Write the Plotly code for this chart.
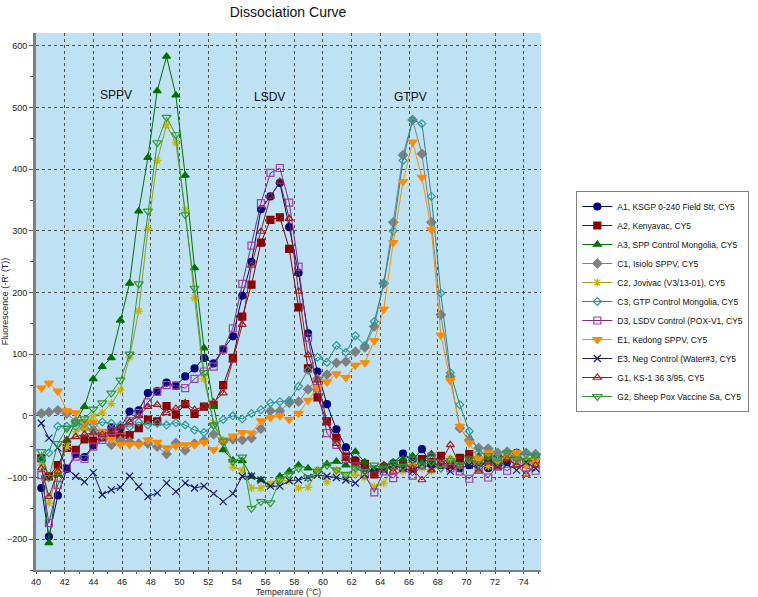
import plotly.graph_objects as go

# Temperature readings (deg C) shared by all wells
temps = [40.37, 40.90, 41.52, 42.15, 42.77, 43.38, 43.99, 44.62, 45.25, 45.88,
         46.52, 47.16, 47.80, 48.45, 49.10, 49.75, 50.40, 51.05, 51.71, 52.38,
         53.05, 53.72, 54.38, 55.02, 55.68, 56.34, 57.00, 57.65, 58.30, 58.96,
         59.62, 60.28, 60.94, 61.60, 62.26, 62.92, 63.58, 64.24, 64.90, 65.58,
         66.25, 66.90, 67.56, 68.22, 68.88, 69.54, 70.20, 70.86, 71.52, 72.18,
         72.84, 73.50, 74.16, 74.82]

a1 = [-117, -196, -129, -86, -62, -67, -48, -28, -19, -20, 7, 9, 37, 40, 54, 49, 64, 77, 94, 85,
      108, 129, 195, 250, 335, 356, 378, 306, 232, 134, 72, 19, -22, -51, -72, -85, -90, -82, -77, -61,
      -72, -54, -78, -80, -75, -85, -80, -72, -85, -70, -75, -60, -75, -70]
a2 = [-69, -98, -80, -52, -55, -38, -40, -35, -32, -33, -31, -20, -6, -9, 16, 2, 19, 3, 15, 18,
      50, 94, 161, 213, 281, 318, 322, 271, 176, 77, 30, -9, -36, -66, -74, -78, -95, -85, -80, -78,
      -85, -70, -75, -65, -80, -68, -62, -75, -68, -80, -70, -62, -75, -72]
a3 = [-70, -206, -95, -40, -9, 15, 60, 80, 94, 155, 215, 332, 419, 527, 583, 520, 390, 240, 110, 15,
      -55, -72, -73, -98, -104, -112, -98, -90, -80, -85, -88, -78, -74, -80, -58, -75, -88, -80, -75, -70,
      -65, -75, -62, -78, -70, -82, -70, -65, -72, -62, -70, -65, -60, -68]
c1 = [4, 6, 9, 4, -9, -20, -23, -32, -47, -40, -42, -45, -45, -50, -62, -44, -56, -45, -40, -30,
      -42, -38, -39, -36, -21, 8, 8, 21, 23, 43, 60, 67, 86, 88, 104, 111, 145, 215, 314, 423,
      480, 425, 314, 164, 64, -20, -39, -52, -53, -60, -58, -65, -60, -62]
c2 = [-80, -142, -90, -50, -25, -20, 0, 5, 20, 42, 95, 170, 303, 414, 472, 443, 334, 191, 60, -11,
      -40, -83, -88, -117, -117, -110, -105, -105, -117, -116, -88, -107, -88, -100, -95, -100, -115, -109, -85, -90,
      -80, -85, -90, -78, -70, -80, -75, -70, -82, -72, -65, -75, -70, -78]
c3 = [-70, -60, -17, -17, -17, -12, -15, -10, -12, -15, -18, -10, -15, -12, -15, -11, -15, -23, -27, -15,
      -6, 0, -5, 4, 10, 21, 23, 25, 48, 74, 95, 87, 114, 103, 130, 114, 153, 214, 300, 414,
      480, 474, 356, 199, 70, 18, -25, -60, -62, -70, -65, -60, -62, -65]
d3 = [-96, -174, -112, -85, -66, -70, -50, -39, -25, -23, -9, 5, 22, 39, 50, 49, 45, 60, 72, 80,
      108, 142, 214, 276, 345, 394, 402, 346, 242, 127, 45, -28, -47, -70, -82, -95, -124, -90, -101, -85,
      -97, -80, -66, -77, -85, -90, -102, -85, -100, -80, -89, -78, -84, -89]
e1 = [45, 53, 40, 8, 5, -10, -10, -25, -38, -47, -47, -47, -39, -43, -52, -49, -47, -47, -43, -55,
      -39, -33, -27, -28, -8, -3, 0, -6, 4, 25, 45, 55, 68, 62, 82, 86, 122, 173, 281, 380,
      444, 387, 302, 131, 57, -17, -44, -70, -60, -75, -65, -60, -80, -72]
e3 = [-12, -36, -52, -85, -98, -107, -92, -128, -120, -116, -98, -115, -131, -125, -109, -123, -109, -117, -114, -126,
      -139, -126, -98, -98, -104, -114, -114, -105, -104, -100, -96, -98, -100, -104, -109, -95, -85, -88, -80, -85,
      -90, -78, -85, -80, -90, -75, -80, -85, -70, -82, -78, -88, -75, -85]
g1 = [-85, -131, -90, -39, -34, -30, -28, -30, -25, -18, -10, 0, 15, 18, 5, 12, 21, 10, 15, 22,
      37, 90, 148, 244, 299, 356, 380, 320, 202, 99, 58, -10, -45, -70, -80, -85, -95, -80, -90, -78,
      -85, -104, -88, -75, -47, -80, -70, -90, -75, -85, -70, -80, -95, -80]
g2 = [-58, -100, -45, -20, -10, -5, 11, 21, 37, 58, 100, 214, 332, 443, 484, 456, 326, 207, 70, -15,
      -41, -74, -67, -150, -139, -141, -104, -95, -85, -100, -90, -80, -88, -95, -85, -90, -80, -85, -78, -82,
      -70, -80, -75, -85, -72, -80, -70, -78, -65, -75, -60, -70, -72, -65]

series_names = ["A1, KSGP 0-240 Field Str, CY5", "A2, Kenyavac, CY5", "A3, SPP Control Mongolia, CY5",
                "C1, Isiolo SPPV, CY5", "C2, Jovivac (V3/13-01), CY5", "C3, GTP Control Mongolia, CY5",
                "D3, LSDV Control (POX-V1, CY5", "E1, Kedong SPPV, CY5", "E3, Neg Control (Water#3, CY5",
                "G1, KS-1 36 3/95, CY5", "G2, Sheep Pox Vaccine Sa, CY5"]
series_values = [a1, a2, a3, c1, c2, c3, d3, e1, e3, g1, g2]

peak_labels = ["SPPV", "LSDV", "GTPV"]
peak_label_x = [45.6, 56.3, 66.1]
peak_label_y = [521, 518, 518]

styles = [
    dict(line="#000080", symbol="circle", fill="#000080", mline="#000080", size=7),
    dict(line="#800000", symbol="square", fill="#8b0000", mline="#8b0000", size=7),
    dict(line="#007000", symbol="triangle-up", fill="#007000", mline="#007000", size=7),
    dict(line="#808080", symbol="diamond", fill="#808080", mline="#808080", size=7),
    dict(line="#999922", symbol="asterisk-open", fill="#c8b400", mline="#b8a000", size=7),
    dict(line="#208a8a", symbol="diamond-open", fill="#2e9999", mline="#2e9999", size=6),
    dict(line="#7a2a8a", symbol="square-open", fill="#a040a8", mline="#a040a8", size=7),
    dict(line="#ff8c00", symbol="triangle-down", fill="#ff8c00", mline="#ff8c00", size=8),
    dict(line="#1a1a6e", symbol="x-thin-open", fill="#1a1a6e", mline="#1a1a6e", size=7),
    dict(line="#8b2020", symbol="triangle-up-open", fill="#a02020", mline="#a02020", size=7),
    dict(line="#2f9a2f", symbol="triangle-down-open", fill="#2f9a2f", mline="#2f9a2f", size=8),
]

fig = go.Figure()
for name, vals, st in zip(series_names, series_values, styles):
    fig.add_trace(go.Scatter(
        x=temps, y=vals, name=name, mode="lines+markers",
        line=dict(color=st["line"], width=1),
        marker=dict(symbol=st["symbol"], size=st["size"], color=st["fill"],
                    line=dict(color=st["mline"], width=1.2)),
    ))

for txt, lx, ly in zip(peak_labels, peak_label_x, peak_label_y):
    fig.add_annotation(x=lx, y=ly, text=txt, showarrow=False,
                       font=dict(family="Liberation Sans, Arial", size=12, color="#111111"))

tickfont = dict(family="Liberation Sans, Arial", size=9, color="#222222")
fig.update_layout(
    width=758, height=597,
    margin=dict(l=36, r=217, t=33, b=27, autoexpand=False),
    paper_bgcolor="white", plot_bgcolor="#bfe3f5",
    title=dict(text="Dissociation Curve", x=0.38, xanchor="center", y=0.98, yanchor="middle",
               font=dict(family="Liberation Sans, Arial", size=14, color="#111111")),
    showlegend=True,
    legend=dict(x=1.07, xanchor="left", y=0.5, yanchor="middle",
                bordercolor="#808080", borderwidth=1, bgcolor="white",
                font=dict(family="Liberation Sans, Arial", size=8.5, color="#111111"),
                tracegroupgap=0, itemwidth=30),
    xaxis=dict(range=[40, 75.2], dtick=2, tick0=40, showgrid=True, gridcolor="#505050",
               griddash="dot", gridwidth=1, zeroline=False, showline=True, linecolor="#808080",
               linewidth=2, ticks="outside", ticklen=2, tickcolor="#555555", tickfont=tickfont,
               minor=dict(dtick=1, ticks="outside", ticklen=2, tickcolor="#555555", showgrid=False),
               title=dict(text="Temperature (°C)", standoff=2,
                          font=dict(family="Liberation Sans, Arial", size=8.5, color="#222222"))),
    yaxis=dict(range=[-250, 621], dtick=100, tick0=0, showgrid=True, gridcolor="#505050",
               griddash="dot", gridwidth=1, zeroline=False, showline=True, linecolor="#808080",
               linewidth=3, ticks="outside", ticklen=4, tickcolor="#555555", tickfont=tickfont,
               minor=dict(dtick=50, ticks="outside", ticklen=3, tickcolor="#555555", showgrid=False),
               title=dict(text="Fluorescence (-R' (T))", standoff=2,
                          font=dict(family="Liberation Sans, Arial", size=9, color="#222222"))),
)

fig.write_html("out.html", config={"displayModeBar": False},
               post_script="document.body.style.margin='0px';")
